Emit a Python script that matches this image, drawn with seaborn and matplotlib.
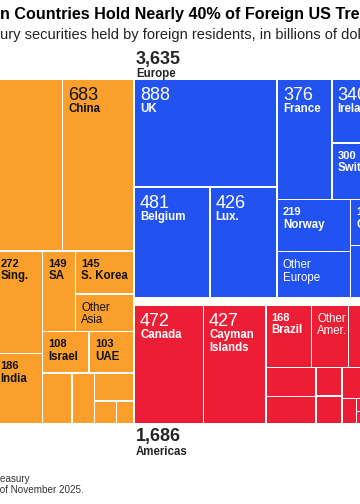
import pandas as pd
import seaborn as sns
import matplotlib.pyplot as plt

# US Treasury securities held by foreign residents, billions of dollars
asia_names = ['Japan', 'China', 'Taiwan', 'HK', 'Sing.', 'India', 'SA',
              'S. Korea', 'Other\nAsia', 'Israel', 'UAE', 'Thailand',
              'Philippines', 'Kuwait', 'Vietnam', 'Qatar']
asia_values = [1202, 683, 296, 254, 272, 186, 149, 145, 124, 108, 103, 84, 64, 63, 28, 22]

europe_names = ['UK', 'Belgium', 'Lux.', 'France', 'Ireland', 'Switzerland', 'Norway',
                'Other\nEurope', 'Germany', 'Netherlands', 'Sweden', 'Spain', 'Italy', 'Denmark']
europe_values = [888, 481, 426, 376, 340, 300, 219, 194, 112, 81, 66, 58, 52, 42]

americas_names = ['Canada', 'Cayman\nIslands', 'Brazil', 'Other\nAmer.', 'Bermuda', 'Mexico',
                  'Colombia', 'Chile', 'Peru', 'Panama', 'Bahamas', 'Uruguay',
                  'Argentina', 'Costa Rica', 'Guatemala']
americas_values = [472, 427, 168, 137, 62, 47, 86, 79, 43, 41, 40, 29, 20, 18, 17]

other_names = ['Intl. orgs', 'Australia', 'Africa', 'Other']
other_values = [120, 70, 50, 40]

region_names = ['Asia', 'Europe', 'Americas', 'Other']
region_colors = ['#FA9F2C', '#2253F0', '#EC1E36', '#8C8C8C']

title = 'Asian Countries Hold Nearly 40% of Foreign US Treasuries'
subtitle = 'Treasury securities held by foreign residents, in billions of dollars'
source = 'Source: US Treasury'
note = 'Note: Data as of November 2025.'

# how each region is sliced: 'h' = side by side, 'v' = stacked, ints = index of country
asia_tree = ('v', [('h', [0, 1]),
                   ('h', [('v', [2, 3]), ('v', [4, 5]),
                          ('v', [('h', [6, ('v', [7, 8])]),
                                 ('h', [9, 10]),
                                 ('h', [11, 12, ('v', [13, ('h', [14, 15])])])])])])
europe_tree = ('h', [('v', [0, ('h', [1, 2])]),
                     ('v', [('h', [3, ('v', [4, 5])]),
                            ('h', [('v', [6, 7]),
                                   ('v', [('h', [8, 9]), ('h', [10, 11, 12, 13])])])])])
americas_tree = ('h', [0, 1,
                       ('v', [('h', [2, 3, 4, 5]),
                              ('h', [('v', [6, 7]), ('v', [8, 9]),
                                     ('v', [('h', [10, 11]), ('h', [12, ('v', [13, 14])])])])])])
other_tree = ('v', [('h', [0, 1]), ('h', [2, 3])])


def weight(node, values):
    if isinstance(node, int):
        return values[node]
    return sum(weight(k, values) for k in node[1])


def split(x0, x1, weights, gap):
    span = x1 - x0 - gap * (len(weights) - 1)
    out, pos = [], x0
    for w in weights:
        size = span * w / sum(weights)
        out.append((pos, pos + size))
        pos += size + gap
    return out


def place(node, values, box, cells, gap=1.5):
    x0, y0, x1, y1 = box
    if isinstance(node, int):
        cells[node] = box
        return
    kind, kids = node
    ws = [weight(k, values) for k in kids]
    if kind == 'h':
        for k, (a, b) in zip(kids, split(x0, x1, ws, gap)):
            place(k, values, (a, y0, b, y1), cells)
    else:
        for k, (a, b) in zip(kids, split(y0, y1, ws, gap)):
            place(k, values, (x0, a, x1, b), cells)


# treemap frame (pixels of the 360x504 canvas); the chart is wider than the crop
left, top, right, bottom = -61.5, 80, 423, 423
totals = [sum(asia_values), sum(europe_values), sum(americas_values), sum(other_values)]

(ax0, ax1), (rx0, rx1) = split(left, right, [totals[0], sum(totals[1:])], 2)
(ey0, ey1), (by0, by1) = split(top, bottom, [totals[1], totals[2] + totals[3]], 9)
(mx0, mx1), (ox0, ox1) = split(rx0, rx1, [totals[2], totals[3]], 3)
region_boxes = [(ax0, top, ax1, bottom), (rx0, ey0, rx1, ey1),
                (mx0, by0, mx1, by1), (ox0, by0, ox1, by1)]

rows = []
for rname, color, names, values, tree, box in zip(
        region_names, region_colors,
        [asia_names, europe_names, americas_names, other_names],
        [asia_values, europe_values, americas_values, other_values],
        [asia_tree, europe_tree, americas_tree, other_tree], region_boxes):
    cells = {}
    place(tree, values, box, cells)
    for i, (x0, y0, x1, y1) in cells.items():
        rows.append(dict(region=rname, name=names[i], value=values[i], color=color,
                         x=x0, y=y0, w=x1 - x0, h=y1 - y0))
df = pd.DataFrame(rows)

sns.set_style('white')
plt.rcParams['font.family'] = ['Liberation Sans', 'DejaVu Sans']

fig = plt.figure(figsize=(3.6, 5.04), dpi=100)
ax = fig.add_axes([0, 0, 1, 1])
ax.set_xlim(0, 360)
ax.set_ylim(504, 0)
ax.axis('off')

ax.bar(df['x'], df['h'], width=df['w'], bottom=df['y'], align='edge',
       color=df['color'], linewidth=0)

# cell labels
for _, r in df.iterrows():
    tc = '#111111' if r['region'] == 'Asia' else 'white'
    tx = r['x'] + 5
    if r['name'].startswith('Other'):
        ax.text(tx, r['y'] + 7, r['name'], fontsize=8.3, color=tc, va='top', linespacing=1.05)
    elif r['value'] > 320:
        ax.text(tx, r['y'] + 7, f"{r['value']:,}", fontsize=13, color=tc, va='top')
        ax.text(tx, r['y'] + 23, r['name'], fontsize=8.3, fontweight='bold', color=tc,
                va='top', linespacing=1.1)
    elif r['value'] >= 100:
        ax.text(tx, r['y'] + 7, f"{r['value']:,}", fontsize=8, fontweight='bold', color=tc, va='top')
        ax.text(tx, r['y'] + 18.5, r['name'], fontsize=8.3, fontweight='bold', color=tc, va='top')

# region totals: above for the top row, below for the bottom row
for rname, tot, (x0, y0, x1, y1) in zip(region_names, totals, region_boxes):
    if y0 == top:
        ax.text(x0 + 1, y0 - 29.3, f'{tot:,}', fontsize=13, fontweight='bold', va='top')
        ax.text(x0 + 1, y0 - 12, rname, fontsize=8.3, fontweight='bold', va='top')
    else:
        ax.text(x0 + 1, y1 + 5, f'{tot:,}', fontsize=13, fontweight='bold', va='top')
        ax.text(x0 + 1, y1 + 23, rname, fontsize=8.3, fontweight='bold', va='top')

ax.text(-34, 7, title, fontsize=11.6, fontweight='bold', va='top', color='black')
ax.text(-37, 28, subtitle, fontsize=10.5, va='top', color='#222222')
ax.text(29.7, 482, source, fontsize=7.1, ha='right', va='baseline', color='#333333')
ax.text(84, 493, note, fontsize=7.1, ha='right', va='baseline', color='#333333')

fig.savefig('out.png', dpi=100)
